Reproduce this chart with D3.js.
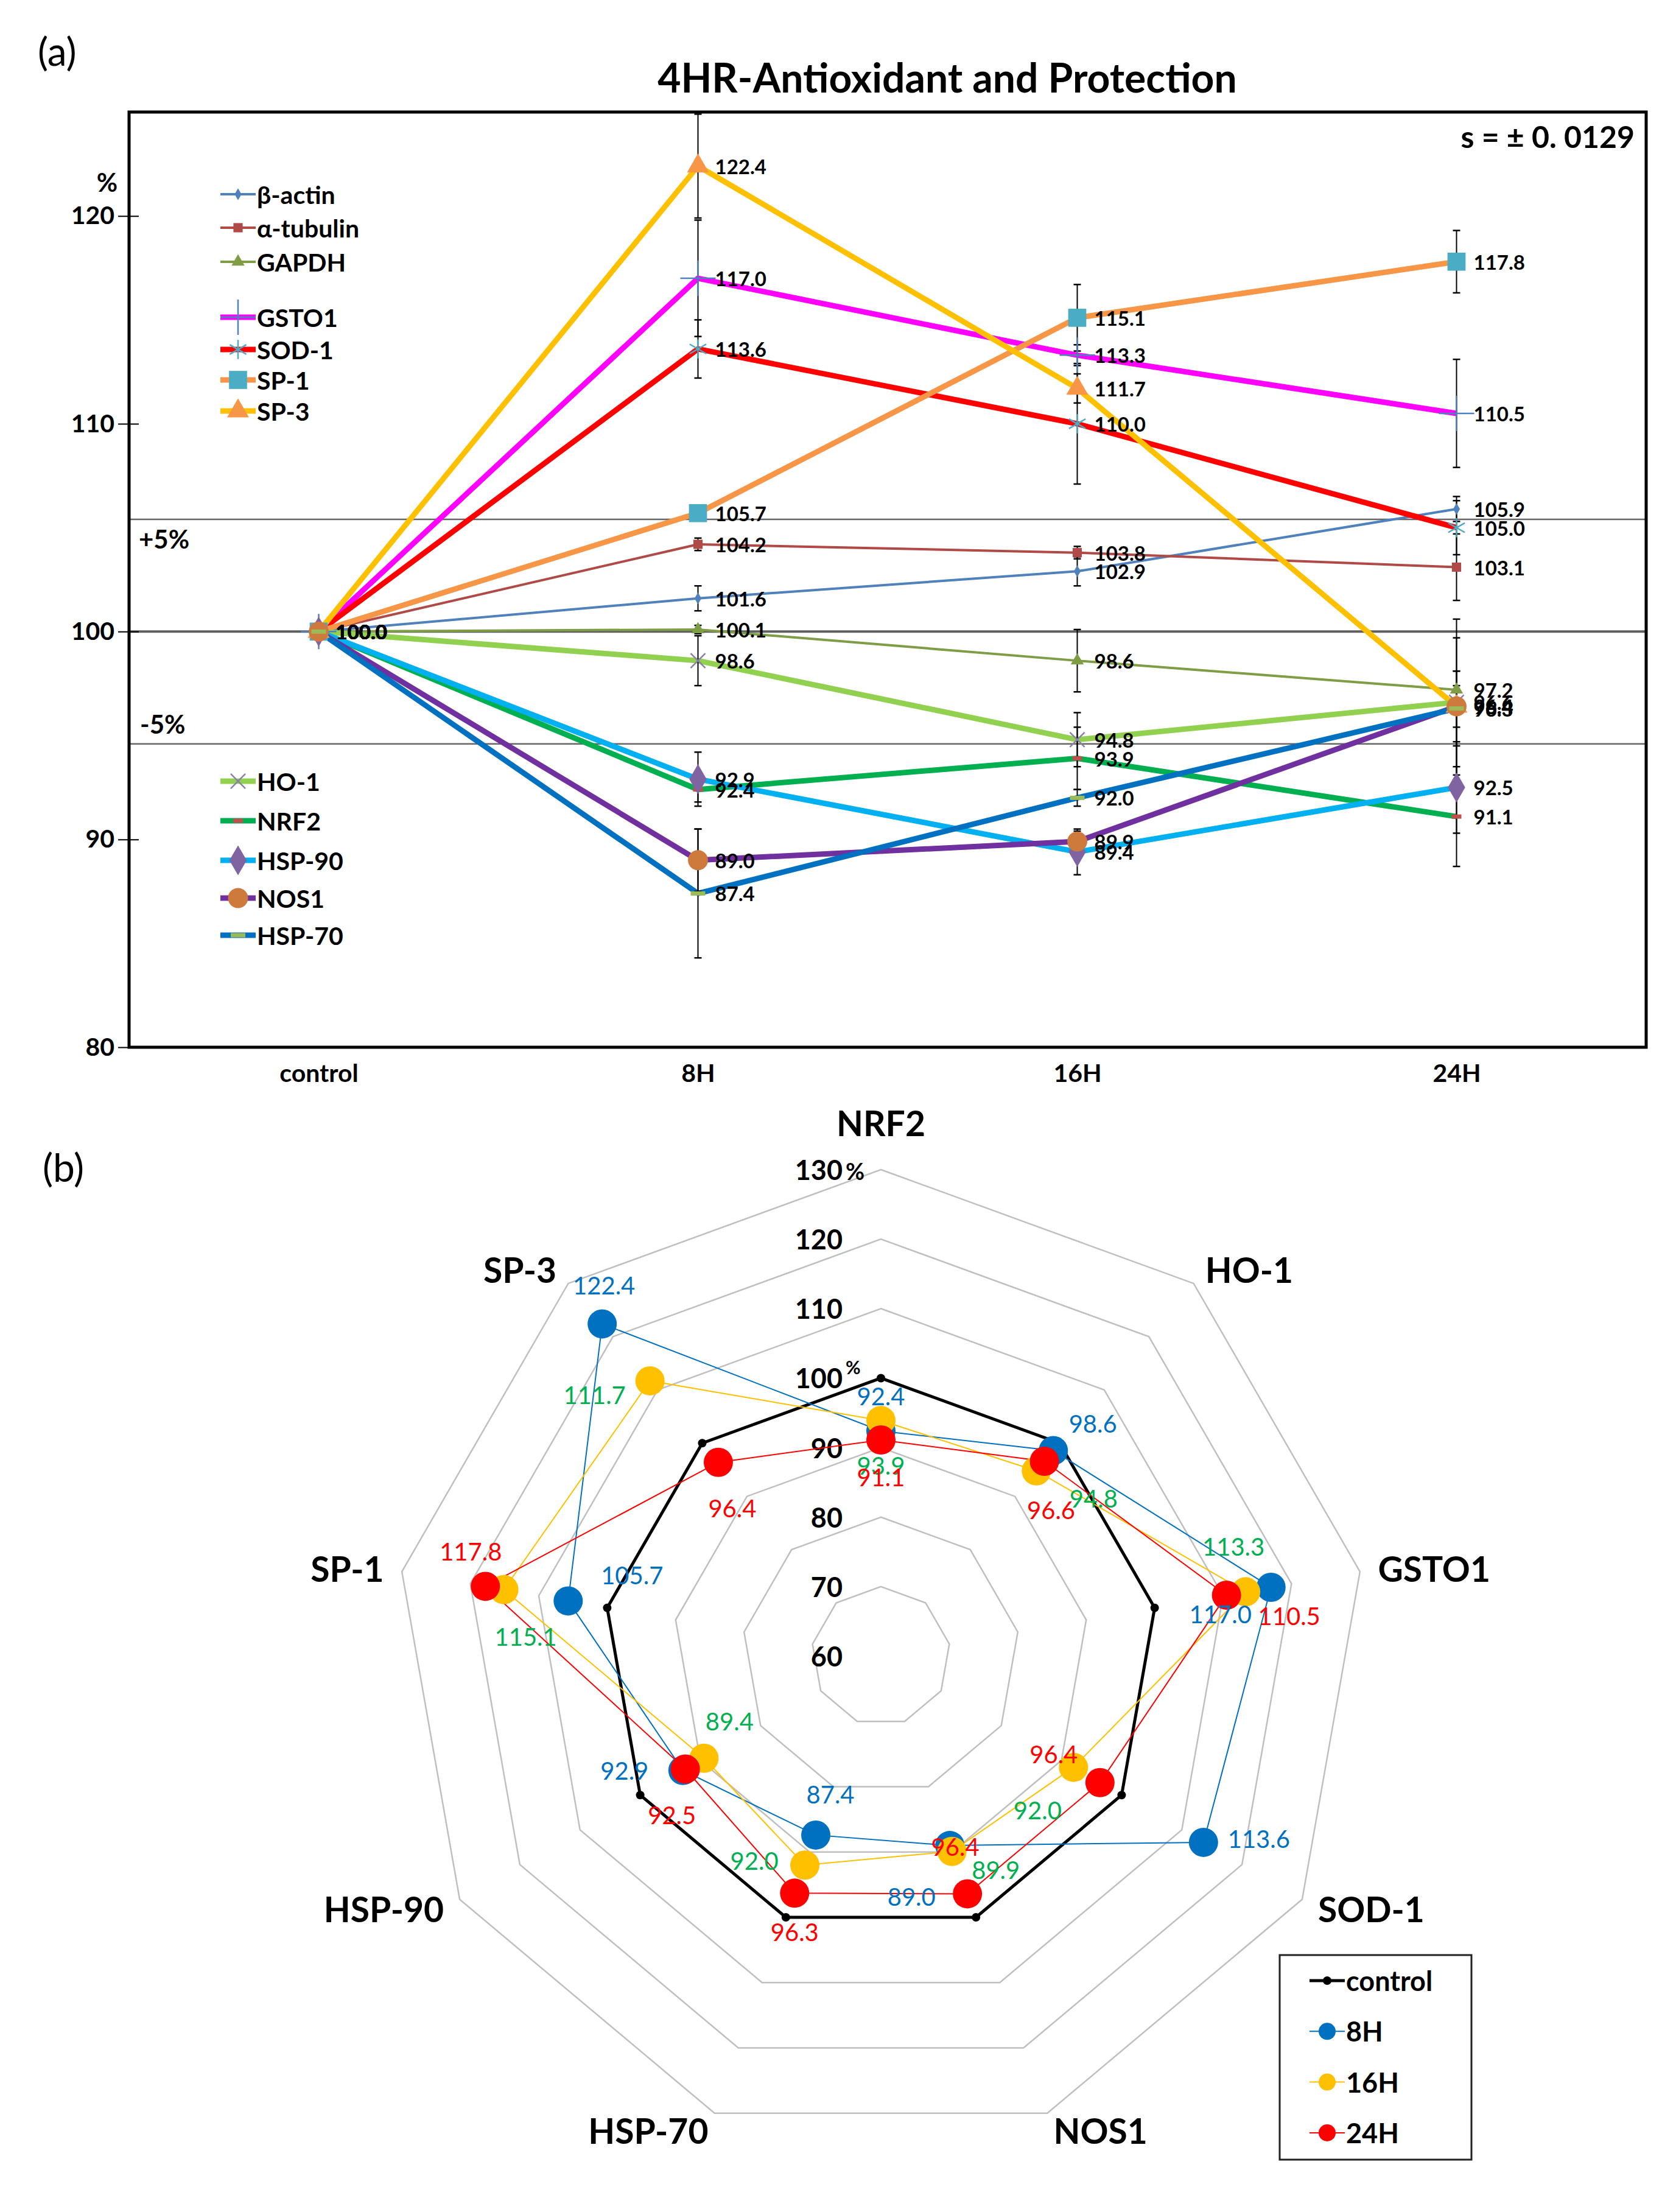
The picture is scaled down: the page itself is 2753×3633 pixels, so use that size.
<!DOCTYPE html>
<html lang="en">
<head>
<meta charset="UTF-8">
<title>4HR-Antioxidant and Protection</title>
<script src="https://d3js.org/d3.v7.min.js"></script>
<style>
  body { margin: 0; background: #fff; }
  svg { display: block; font-family: Lato, "Open Sans", "DejaVu Sans", sans-serif; }
  text { fill: #000; }
</style>
</head>
<body>
<svg id="chart" width="2753" height="3633"></svg>
<script>
// ---------- data, panel (a) ----------
const timePoints = ["control", "8H", "16H", "24H"];
const yTicks = [80, 90, 100, 110, 120];

const betaActin    = [100, 101.6, 102.9, 105.9];
const alphaTubulin = [100, 104.2, 103.8, 103.1];
const gapdh        = [100, 100.1, 98.6, 97.2];
const gsto1        = [100, 117.0, 113.3, 110.5];
const sod1         = [100, 113.6, 110.0, 105.0];
const sp1          = [100, 105.7, 115.1, 117.8];
const sp3          = [100, 122.4, 111.7, 96.4];
const ho1          = [100, 98.6, 94.8, 96.6];
const nrf2         = [100, 92.4, 93.9, 91.1];
const hsp90        = [100, 92.9, 89.4, 92.5];
const nos1         = [100, 89.0, 89.9, 96.4];
const hsp70        = [100, 87.4, 92.0, 96.3];

// error bar half-widths
const betaActinErr    = [0, 0.6, 0.7, 0.6];
const alphaTubulinErr = [0, 0.3, 0.3, 1.6];
const gapdhErr        = [0, 0.2, 1.5, 0.9];
const gsto1Err        = [0, 2.8, 0.5, 2.6];
const sod1Err         = [0, 1.4, 2.9, 1.3];
const sp1Err          = [0, 0.3, 1.6, 1.5];
const sp3Err          = [0, 2.5, 0.7, 3.3];
const ho1Err          = [0, 1.2, 1.3, 4.0];
const nrf2Err         = [0, 0.6, 1.5, 2.4];
const hsp90Err        = [0, 1.3, 1.1, 2.2];
const nos1Err         = [0, 1.5, 0.5, 1.0];
const hsp70Err        = [0, 3.1, 0.4, 1.8];

const limitLines = [105.4, 94.6];

// ---------- data, panel (b) ----------
const radarAxes    = ["NRF2", "HO-1", "GSTO1", "SOD-1", "NOS1", "HSP-70", "HSP-90", "SP-1", "SP-3"];
const radarControl = [100, 100, 100, 100, 100, 100, 100, 100, 100];
const radar8H      = [92.4, 98.6, 117.0, 113.6, 89.0, 87.4, 92.9, 105.7, 122.4];
const radar16H     = [93.9, 94.8, 113.3, 92.0, 89.9, 92.0, 89.4, 115.1, 111.7];
const radar24H     = [91.1, 96.6, 110.5, 96.4, 96.4, 96.3, 92.5, 117.8, 96.4];
const radarTicks   = [60, 70, 80, 90, 100, 110, 120, 130];

// ---------- styles ----------
const seriesStyle = {
  "β-actin":   { color: "#4F81BD", width: 4, marker: "diamond",  mcolor: "#4F81BD", msize: 110 },
  "α-tubulin": { color: "#B04A46", width: 4, marker: "square",   mcolor: "#B04A46", msize: 230 },
  "GAPDH":     { color: "#7F9D45", width: 4, marker: "triangle", mcolor: "#7F9D45", msize: 200 },
  "GSTO1":     { color: "#FF00FF", width: 9, marker: "plus",     mcolor: "#4F81BD", msize: 1100 },
  "SOD-1":     { color: "#FF0000", width: 9, marker: "asterisk", mcolor: "#4BACC6", msize: 700 },
  "SP-1":      { color: "#F79646", width: 9, marker: "square",   mcolor: "#4BACC6", msize: 880 },
  "SP-3":      { color: "#FFC000", width: 9, marker: "triangle", mcolor: "#F79646", msize: 560 },
  "HO-1":      { color: "#92D050", width: 9, marker: "times",    mcolor: "#8C7FA8", msize: 380 },
  "NRF2":      { color: "#00B050", width: 9, marker: "dash",     mcolor: "#C0504D", msize: 16 },
  "HSP-90":    { color: "#00B0F0", width: 9, marker: "diamond",  mcolor: "#8064A2", msize: 700 },
  "NOS1":      { color: "#7030A0", width: 9, marker: "circle",   mcolor: "#CD7A3C", msize: 850 },
  "HSP-70":    { color: "#0070C0", width: 9, marker: "dash",     mcolor: "#9BBB59", msize: 24 }
};

const lineSeries = [
  { name: "β-actin",   values: betaActin,    err: betaActinErr },
  { name: "α-tubulin", values: alphaTubulin, err: alphaTubulinErr },
  { name: "GAPDH",     values: gapdh,        err: gapdhErr },
  { name: "GSTO1",     values: gsto1,        err: gsto1Err },
  { name: "SOD-1",     values: sod1,         err: sod1Err },
  { name: "SP-1",      values: sp1,          err: sp1Err },
  { name: "SP-3",      values: sp3,          err: sp3Err },
  { name: "HO-1",      values: ho1,          err: ho1Err },
  { name: "NRF2",      values: nrf2,         err: nrf2Err },
  { name: "HSP-90",    values: hsp90,        err: hsp90Err },
  { name: "NOS1",      values: nos1,         err: nos1Err },
  { name: "HSP-70",    values: hsp70,        err: hsp70Err }
];

// legend rows: [name, y]
const legendRowsA = [
  ["β-actin", 319], ["α-tubulin", 374], ["GAPDH", 430],
  ["GSTO1", 521], ["SOD-1", 574], ["SP-1", 624], ["SP-3", 675],
  ["HO-1", 1283], ["NRF2", 1348], ["HSP-90", 1413], ["NOS1", 1475], ["HSP-70", 1536]
];

const radarSeries = [
  { name: "8H",  values: radar8H,  color: "#0070C0", labelColor: "#0070C0" },
  { name: "16H", values: radar16H, color: "#FFC000", labelColor: "#00B050" },
  { name: "24H", values: radar24H, color: "#FF0000", labelColor: "#FF0000" }
];
// hand placement of the value labels, offset from each point
const radarLabelNudge = {
  "8H":  [[0, -57], [65, -44], [-83, 44], [91, -6], [-63, 84], [24, -67], [-96, 0], [105, -42], [3, -63]],
  "16H": [[0, 74], [94, 45], [-20, -74], [-59, 70], [72, 30], [-83, -7], [42, -61], [36, 77], [-91, 23]],
  "24H": [[0, 61], [11, 80], [103, 34], [-76, -47], [-20, -77], [0, 64], [-22, 76], [-24, -57], [23, 75]]
};

const svg = d3.select("#chart");
svg.append("rect").attr("width", 2753).attr("height", 3633).attr("fill", "#fff");

function symbolPath(type, size) {
  const types = {
    diamond: d3.symbolDiamond, square: d3.symbolSquare, triangle: d3.symbolTriangle,
    circle: d3.symbolCircle, plus: d3.symbolPlus || d3.symbolCross,
    times: d3.symbolTimes || d3.symbolX || d3.symbolCross,
    asterisk: d3.symbolAsterisk || d3.symbolStar
  };
  return d3.symbol().type(types[type]).size(size)();
}

function drawMarker(sel, st) {
  if (st.marker === "dash") {
    sel.append("rect")
      .attr("x", -st.msize / 2).attr("y", -3.5)
      .attr("width", st.msize).attr("height", 7)
      .attr("fill", st.mcolor);
  } else if (["plus", "times", "asterisk"].includes(st.marker)) {
    sel.append("path").attr("d", symbolPath(st.marker, st.msize))
      .attr("fill", "none").attr("stroke", st.mcolor).attr("stroke-width", 2.5);
  } else {
    sel.append("path").attr("d", symbolPath(st.marker, st.msize))
      .attr("fill", st.mcolor);
  }
}

// ================= panel (a) =================
const plot = { left: 212, right: 2704, top: 184, bottom: 1720 };
const x = d3.scalePoint().domain(timePoints).range([plot.left, plot.right]).padding(0.5);
const y = d3.scaleLinear().domain([80, 125]).range([plot.bottom, plot.top]);

const ga = svg.append("g");

ga.append("text").attr("x", 62).attr("y", 83).attr("dominant-baseline", "central")
  .attr("font-size", 64).text("(a)");

ga.append("text").attr("x", 1556).attr("y", 126).attr("dominant-baseline", "central")
  .attr("text-anchor", "middle").attr("font-size", 66).attr("font-weight", 700)
  .text("4HR-Antioxidant and Protection");

// reference lines
ga.append("line").attr("x1", plot.left).attr("x2", plot.right)
  .attr("y1", y(100)).attr("y2", y(100)).attr("stroke", "#5f5f5f").attr("stroke-width", 4);
ga.selectAll(".limit").data(limitLines).enter().append("line")
  .attr("x1", plot.left).attr("x2", plot.right)
  .attr("y1", d => y(d)).attr("y2", d => y(d))
  .attr("stroke", "#666").attr("stroke-width", 2.5);

ga.append("text").attr("x", 228).attr("y", y(limitLines[0]) + 32)
  .attr("dominant-baseline", "central").attr("font-size", 42).attr("font-weight", 700).text("+5%");
ga.append("text").attr("x", 230).attr("y", y(limitLines[1]) - 33)
  .attr("dominant-baseline", "central").attr("font-size", 42).attr("font-weight", 700).text("-5%");

// axes
const yAxis = ga.append("g").attr("transform", `translate(${plot.left},0)`)
  .call(d3.axisLeft(y).tickValues(yTicks).tickSize(0).tickPadding(24));
yAxis.select(".domain").remove();
yAxis.selectAll(".tick text").attr("font-size", 41).attr("font-weight", 700)
  .attr("font-family", "Lato, sans-serif").attr("fill", "#000");
yAxis.selectAll(".tick").append("line").attr("x1", -18).attr("x2", 16)
  .attr("stroke", "#000").attr("stroke-width", 2);

ga.append("text").attr("x", 176).attr("y", 299).attr("text-anchor", "middle")
  .attr("dominant-baseline", "central").attr("font-size", 42).attr("font-weight", 700).text("%");

const xAxis = ga.append("g").attr("transform", `translate(0,${plot.bottom})`)
  .call(d3.axisBottom(x).tickSize(0).tickPadding(28));
xAxis.select(".domain").remove();
xAxis.selectAll(".tick text").attr("font-size", 41).attr("font-weight", 700)
  .attr("font-family", "Lato, sans-serif").attr("fill", "#000");

// lines
const line = d3.line().x((d, i) => x(timePoints[i])).y(d => y(d));
ga.selectAll(".series").data(lineSeries).enter().append("path")
  .attr("d", d => line(d.values))
  .attr("fill", "none")
  .attr("stroke", d => seriesStyle[d.name].color)
  .attr("stroke-width", d => seriesStyle[d.name].width)
  .attr("stroke-linejoin", "round");

// error bars
const errData = [];
lineSeries.forEach(s => s.values.forEach((v, i) => {
  if (s.err[i] > 0) errData.push({ t: timePoints[i], v: v, e: s.err[i] });
}));
const eb = ga.selectAll(".err").data(errData).enter().append("g");
eb.append("line").attr("x1", d => x(d.t)).attr("x2", d => x(d.t))
  .attr("y1", d => y(d.v - d.e)).attr("y2", d => y(d.v + d.e))
  .attr("stroke", "#000").attr("stroke-width", 2);
eb.append("line").attr("x1", d => x(d.t) - 6).attr("x2", d => x(d.t) + 6)
  .attr("y1", d => y(d.v + d.e)).attr("y2", d => y(d.v + d.e))
  .attr("stroke", "#000").attr("stroke-width", 2.5);
eb.append("line").attr("x1", d => x(d.t) - 6).attr("x2", d => x(d.t) + 6)
  .attr("y1", d => y(d.v - d.e)).attr("y2", d => y(d.v - d.e))
  .attr("stroke", "#000").attr("stroke-width", 2.5);

// markers and value labels
lineSeries.forEach(s => {
  const st = seriesStyle[s.name];
  s.values.forEach((v, i) => {
    const m = ga.append("g").attr("transform", `translate(${x(timePoints[i])},${y(v)})`);
    drawMarker(m, st);
  });
});
lineSeries.forEach(s => {
  ga.selectAll(null).data(s.values).enter().append("text")
    .attr("x", (d, i) => x(timePoints[i]) + 28)
    .attr("y", d => y(d))
    .attr("dominant-baseline", "central")
    .attr("font-size", 33).attr("font-weight", 700)
    .text(d => d.toFixed(1));
});

// legend
legendRowsA.forEach(([name, ly]) => {
  const st = seriesStyle[name];
  const lg = ga.append("g").attr("transform", `translate(391,${ly})`);
  lg.append("line").attr("x1", -29).attr("x2", 29)
    .attr("stroke", st.color).attr("stroke-width", st.width);
  drawMarker(lg, st);
  lg.append("text").attr("x", 31).attr("dominant-baseline", "central")
    .attr("font-size", 41).attr("font-weight", 700).text(name);
});

ga.append("text").attr("x", 2685).attr("y", 224).attr("text-anchor", "end")
  .attr("dominant-baseline", "central").attr("font-size", 50).attr("font-weight", 700)
  .text("s = ± 0. 0129");

// frame
ga.append("rect").attr("x", plot.left).attr("y", plot.top)
  .attr("width", plot.right - plot.left).attr("height", plot.bottom - plot.top)
  .attr("fill", "none").attr("stroke", "#000").attr("stroke-width", 5);

// ================= panel (b) =================
const cx = 1447, cy = 2720;
const r = d3.scaleLinear().domain([60, 130]).range([0, 799]);
const angle = i => (-90 + 360 / radarAxes.length * i) * Math.PI / 180;
const polar = (v, i) => [cx + r(v) * Math.cos(angle(i)), cy + r(v) * Math.sin(angle(i))];

const gb = svg.append("g");

gb.append("text").attr("x", 70).attr("y", 1916).attr("dominant-baseline", "central")
  .attr("font-size", 64).text("(b)");

// rings
const ring = d3.line().curve(d3.curveLinearClosed);
gb.selectAll(".ring").data(radarTicks.filter(t => t > 60)).enter().append("path")
  .attr("d", t => ring(radarAxes.map((a, i) => polar(t, i))))
  .attr("fill", "none").attr("stroke", "#BFBFBF").attr("stroke-width", 2.5);

// tick labels
gb.selectAll(".rtick").data(radarTicks).enter().append("text")
  .attr("x", cx - 63).attr("y", t => cy - r(t))
  .attr("text-anchor", "end").attr("dominant-baseline", "central")
  .attr("font-size", 45).attr("font-weight", 700).text(t => t);
gb.append("text").attr("x", cx - 58).attr("y", cy - r(130) + 2).attr("dominant-baseline", "central")
  .attr("font-size", 38).attr("font-weight", 700).text("%");
gb.append("text").attr("x", cx - 58).attr("y", cy - r(100) - 18).attr("dominant-baseline", "central")
  .attr("font-size", 30).attr("font-weight", 700).text("%");

// axis labels
gb.selectAll(".axlab").data(radarAxes).enter().append("text")
  .attr("x", (d, i) => cx + (r(130) + 30) * Math.cos(angle(i)))
  .attr("y", (d, i) => {
    const yy = cy + (r(130) + 30) * Math.sin(angle(i));
    return Math.abs(Math.cos(angle(i))) < 0.1 ? yy - 47 : yy;
  })
  .attr("text-anchor", (d, i) => {
    const c = Math.cos(angle(i));
    return c > 0.1 ? "start" : (c < -0.1 ? "end" : "middle");
  })
  .attr("dominant-baseline", "central")
  .attr("font-size", 57).attr("font-weight", 700).text(d => d);

// control
gb.append("path").attr("d", ring(radarControl.map((v, i) => polar(v, i))))
  .attr("fill", "none").attr("stroke", "#000").attr("stroke-width", 5);
gb.selectAll(".cdot").data(radarControl).enter().append("circle")
  .attr("cx", (d, i) => polar(d, i)[0]).attr("cy", (d, i) => polar(d, i)[1])
  .attr("r", 7).attr("fill", "#000");

// timepoint series
radarSeries.forEach(s => {
  gb.append("path").attr("d", ring(s.values.map((v, i) => polar(v, i))))
    .attr("fill", "none").attr("stroke", s.color).attr("stroke-width", 2);
});
radarSeries.forEach(s => {
  gb.selectAll(null).data(s.values).enter().append("circle")
    .attr("cx", (d, i) => polar(d, i)[0]).attr("cy", (d, i) => polar(d, i)[1])
    .attr("r", 24).attr("fill", s.color);
});
radarSeries.forEach(s => {
  gb.selectAll(null).data(s.values).enter().append("text")
    .attr("x", (d, i) => polar(d, i)[0] + radarLabelNudge[s.name][i][0])
    .attr("y", (d, i) => polar(d, i)[1] + radarLabelNudge[s.name][i][1])
    .attr("text-anchor", "middle").attr("dominant-baseline", "central")
    .attr("font-size", 40).style("fill", s.labelColor)
    .text(d => d.toFixed(1));
});

// legend (b)
const lgb = gb.append("g");
lgb.append("rect").attr("x", 2102).attr("y", 3211).attr("width", 315).attr("height", 336)
  .attr("fill", "#fff").attr("stroke", "#222").attr("stroke-width", 3);
const legendB = [{ name: "control", color: "#000", dot: 7, w: 5 }]
  .concat(radarSeries.map(s => ({ name: s.name, color: s.color, dot: 14, w: 2 })));
legendB.forEach((d, i) => {
  const row = lgb.append("g").attr("transform", `translate(2180,${3253 + i * 83.3})`);
  row.append("line").attr("x1", -29).attr("x2", 29).attr("stroke", d.color).attr("stroke-width", d.w);
  row.append("circle").attr("r", d.dot).attr("fill", d.color);
  row.append("text").attr("x", 31).attr("dominant-baseline", "central")
    .attr("font-size", 45).attr("font-weight", 700).text(d.name);
});
</script>
</body>
</html>
